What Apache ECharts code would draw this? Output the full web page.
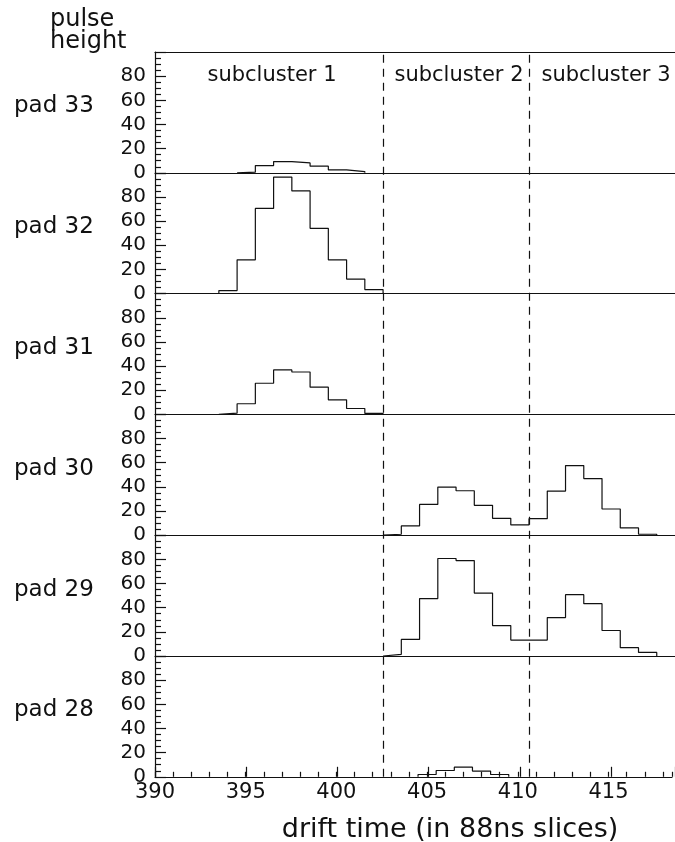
<!DOCTYPE html>
<html>
<head>
<meta charset="utf-8">
<script src="https://cdn.jsdelivr.net/npm/echarts@6/dist/echarts.min.js"></script>
<style>html,body{margin:0;padding:0;background:#fff}#c{width:675px;height:842px}</style>
</head>
<body>
<div id="c"></div>
<script>
// ---- data ----
const padNames = ['pad 33', 'pad 32', 'pad 31', 'pad 30', 'pad 29', 'pad 28'];
const subclusterNames = ['subcluster 1', 'subcluster 2', 'subcluster 3'];
const clusterBoundaries = [402.5, 410.5];
const xMin = 390, xMax = 418.5, xMajorStep = 5, xMinorStep = 1;
const yMin = 0, yMax = 100, yStep = 20;

// drift-time slices (bin centres) and pulse heights per pad
const pad33Slices = [395, 396, 397, 398, 399, 400, 401];
const pad33Values = [0.5, 6, 9.3, 8.2, 5.5, 2.5, 1];
const pad32Slices = [394, 395, 396, 397, 398, 399, 400, 401, 402];
const pad32Values = [2.5, 28, 70.5, 96.5, 85, 54, 28, 12, 3.3];
const pad31Slices = [394, 395, 396, 397, 398, 399, 400, 401, 402];
const pad31Values = [1, 8.8, 25.8, 36.8, 35.1, 22.5, 12.1, 4.9, 0.8];
const pad30Slices = [403, 404, 405, 406, 407, 408, 409, 410, 411, 412, 413, 414, 415, 416, 417];
const pad30Values = [0.8, 7.7, 25.5, 39.8, 36.8, 24.7, 14, 8.5, 13.7, 36.5, 57.6, 46.9, 21.7, 6, 0.8];
const pad29Slices = [403, 404, 405, 406, 407, 408, 409, 410, 411, 412, 413, 414, 415, 416, 417];
const pad29Values = [1.4, 13.7, 47.5, 80.7, 79, 52.1, 25.2, 13.2, 13.2, 31.8, 50.8, 43.3, 21.1, 6.9, 3];
const pad28Slices = [405, 406, 407, 408, 409];
const pad28Values = [1.9, 5.2, 8, 4.7, 1.9];

const padSlices = [pad33Slices, pad32Slices, pad31Slices, pad30Slices, pad29Slices, pad28Slices];
const padValues = [pad33Values, pad32Values, pad31Values, pad30Values, pad29Values, pad28Values];

// ---- build histogram outlines (bin edges at +-0.5) ----
function histOutline(slices, values) {
  const pts = [[slices[0] - 0.5, 0]];
  slices.forEach((c, k) => {
    pts.push([c - 0.5, values[k]]);
    pts.push([c + 0.5, values[k]]);
  });
  pts.push([slices[slices.length - 1] + 0.5, 0]);
  return pts;
}

const FONT = 'DejaVu Sans';
const INK = '#111';
const LW = 1.2;
const L = 155, R = 0, TOP = 52, PH = 120.8;
const n = padNames.length;

const grids = [], xAxes = [], yAxes = [], series = [];
for (let i = 0; i < n; i++) {
  const last = i === n - 1;
  grids.push({ left: L, right: R, top: TOP + i * PH, height: PH });
  xAxes.push({
    gridIndex: i, type: 'value', min: xMin, max: xMax, interval: xMinorStep,
    axisLine: { show: true, onZero: false, lineStyle: { color: INK, width: LW } },
    axisTick: { show: last, inside: true, length: 5, lineStyle: { color: INK, width: LW } },
    axisLabel: { show: last, fontFamily: FONT, fontSize: 21, color: INK, margin: 5,
      formatter: v => (v % xMajorStep === 0 ? String(v) : '') },
    splitLine: { show: false }
  });
  yAxes.push({
    gridIndex: i, type: 'value', min: yMin, max: yMax, interval: yStep,
    axisLine: { show: true, lineStyle: { color: INK, width: LW } },
    axisTick: { show: true, inside: true, length: 11, lineStyle: { color: INK, width: LW } },
    minorTick: { show: true, splitNumber: 4, length: 6, lineStyle: { color: INK, width: LW } },
    axisLabel: { fontFamily: FONT, fontSize: 20, color: INK, margin: 9,
      formatter: v => (v === yMax ? '' : String(v)) },
    splitLine: { show: false }
  });
  series.push({
    type: 'line', xAxisIndex: i, yAxisIndex: i,
    data: histOutline(padSlices[i], padValues[i]),
    showSymbol: false, symbol: 'none',
    lineStyle: { color: INK, width: LW }, z: 3
  });
}
// top border line of first panel
xAxes.push({
  gridIndex: 0, type: 'value', position: 'top', min: xMin, max: xMax,
  axisLine: { show: true, onZero: false, lineStyle: { color: INK, width: LW } },
  axisTick: { show: false }, axisLabel: { show: false }, splitLine: { show: false }
});
// overlay grid: long major ticks on the bottom axis + cluster boundaries
grids.push({ left: L, right: R, top: TOP, height: n * PH });
xAxes.push({
  gridIndex: n, type: 'value', position: 'bottom', min: xMin, max: xMax, interval: xMajorStep,
  axisLine: { show: false, onZero: false },
  axisTick: { show: true, inside: true, length: 10, lineStyle: { color: INK, width: LW } },
  axisLabel: { show: false }, splitLine: { show: false }
});
yAxes.push({ gridIndex: n, type: 'value', min: 0, max: 1, show: false });
series.push({
  type: 'line', xAxisIndex: xAxes.length - 1, yAxisIndex: n, data: [],
  markLine: {
    silent: true, symbol: 'none', label: { show: false },
    lineStyle: { color: INK, width: LW, type: [8, 6] },
    data: clusterBoundaries.map(b => ({ xAxis: b }))
  }
});

const graphics = [
  { type: 'text', left: 50, top: 8, style: { text: 'pulse\nheight', font: '24px "DejaVu Sans"', fill: INK, lineHeight: 22 } }
];
padNames.forEach((p, i) => {
  graphics.push({ type: 'text', left: 14, top: 95 + i * PH,
    style: { text: p, font: '23px "DejaVu Sans"', fill: INK } });
});
const subX = [272, 459, 606];
subclusterNames.forEach((s, k) => {
  graphics.push({ type: 'text', x: subX[k], y: 76,
    style: { text: s, font: '21px "DejaVu Sans"', fill: INK, align: 'center', verticalAlign: 'middle' } });
});
graphics.push({ type: 'text', x: 450, y: 830,
  style: { text: 'drift time (in 88ns slices)', font: '27px "DejaVu Sans"', fill: INK, align: 'center', verticalAlign: 'middle' } });

const chart = echarts.init(document.getElementById('c'), null, { renderer: 'canvas' });
chart.setOption({
  animation: false,
  backgroundColor: '#fff',
  grid: grids, xAxis: xAxes, yAxis: yAxes, series: series,
  graphic: graphics
});
</script>
</body>
</html>
